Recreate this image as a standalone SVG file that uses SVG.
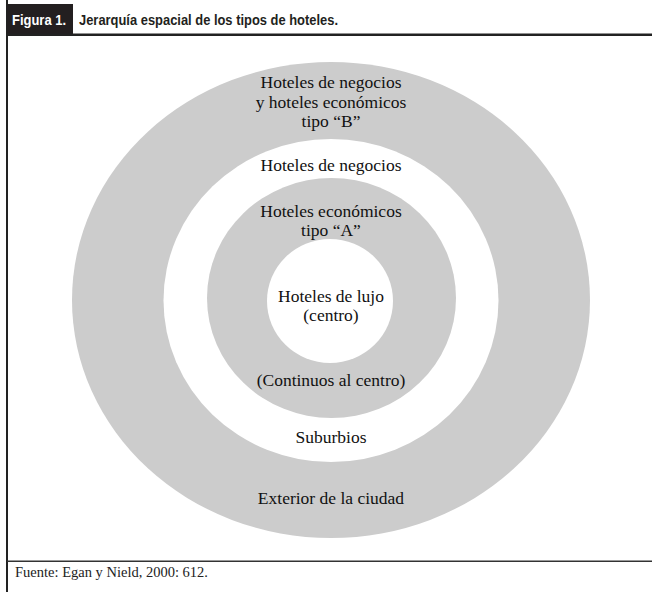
<svg xmlns="http://www.w3.org/2000/svg" width="652" height="592" viewBox="0 0 652 592">
  <style>
    .ring { fill: #cccccc; }
    .hole { fill: #ffffff; }
    .lbl { font-family: "Liberation Serif", "Times New Roman", serif; font-size: 17.5px; fill: #111111; text-anchor: middle; }
    .head { font-family: "Liberation Sans", Arial, sans-serif; font-weight: bold; font-size: 15px; }
    .src { font-family: "Liberation Serif", "Times New Roman", serif; font-size: 14px; fill: #222222; }
  </style>
  <rect x="0" y="0" width="652" height="592" fill="#ffffff"/>

  <!-- frame -->
  <g id="frame">
    <rect x="6" y="0" width="2" height="592" fill="#222222"/>
    <rect x="7" y="4" width="66" height="30" fill="#231f20"/>
    <rect x="7" y="33.5" width="645" height="2.5" fill="#222222"/>
    <rect x="7" y="560.5" width="645" height="1.5" fill="#333333"/>
    <text class="head" x="12" y="25" fill="#ffffff" textLength="54" lengthAdjust="spacingAndGlyphs">Figura 1.</text>
    <text class="head" x="79" y="25" fill="#231f20" textLength="259" lengthAdjust="spacingAndGlyphs">Jerarquía espacial de los tipos de hoteles.</text>
  </g>

  <!-- concentric zones -->
  <g id="exterior">
    <ellipse class="ring" cx="331" cy="300" rx="259" ry="238"/>
    <text class="lbl" x="331" y="504">Exterior de la ciudad</text>
  </g>
  <g id="suburbios">
    <ellipse class="hole" cx="331" cy="300.5" rx="167.5" ry="161.5"/>
    <text class="lbl" x="331" y="443">Suburbios</text>
  </g>
  <g id="continuos">
    <ellipse class="ring" cx="331.5" cy="298" rx="124.5" ry="120"/>
    <text class="lbl" x="331" y="386">(Continuos al centro)</text>
  </g>
  <g id="centro">
    <ellipse class="hole" cx="330" cy="301" rx="63" ry="62"/>
    <text class="lbl" x="331" y="301.5">Hoteles de lujo</text>
    <text class="lbl" x="331" y="320.5">(centro)</text>
  </g>

  <!-- zone labels in the upper half -->
  <g id="labels-upper">
    <text class="lbl" x="331" y="88">Hoteles de negocios</text>
    <text class="lbl" x="331" y="108">y hoteles económicos</text>
    <text class="lbl" x="331" y="127">tipo “B”</text>
    <text class="lbl" x="331" y="171">Hoteles de negocios</text>
    <text class="lbl" x="331" y="216.5">Hoteles económicos</text>
    <text class="lbl" x="331" y="235.5">tipo “A”</text>
  </g>

  <text class="src" x="15" y="577" textLength="193" lengthAdjust="spacingAndGlyphs">Fuente: Egan y Nield, 2000: 612.</text>
</svg>
